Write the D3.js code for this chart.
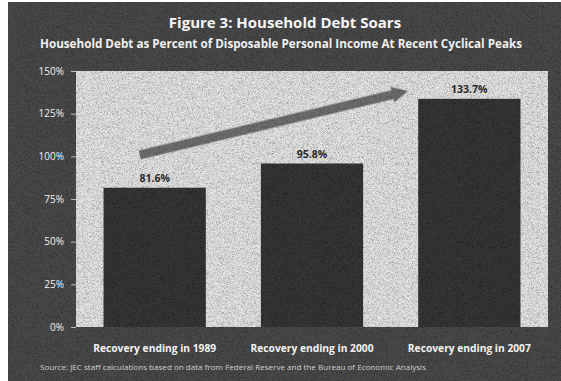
<!DOCTYPE html>
<html>
<head>
<meta charset="utf-8">
<script src="https://cdn.jsdelivr.net/npm/d3@7"></script>
<style>
  body { margin: 0; background: #fff; }
  svg { display: block; }
</style>
</head>
<body>
<div id="chart"></div>
<script>
// data
const categories = ["Recovery ending in 1989", "Recovery ending in 2000", "Recovery ending in 2007"];
const debtPct = [81.6, 95.8, 133.7];
const yTicks = [0, 25, 50, 75, 100, 125, 150];
// trend arrow, in data units: [offset from first bar centre in bands, value]
const arrowFrom = [-0.095, 100.8];
const arrowTo = [1.61, 138.3];

const W = 561, H = 381;
const margin = { top: 71, right: 13, bottom: 54, left: 76 };
const width = W - margin.left - margin.right;
const height = H - margin.top - margin.bottom;

const svg = d3.select("#chart").append("svg")
  .attr("width", W).attr("height", H);

// grainy texture like the scanned original
const defs = svg.append("defs");
const f = defs.append("filter").attr("id", "grain")
  .attr("x", 0).attr("y", 0).attr("width", "100%").attr("height", "100%");
f.append("feTurbulence").attr("type", "fractalNoise")
  .attr("baseFrequency", 1.8).attr("numOctaves", 1).attr("seed", 3).attr("result", "n");
f.append("feColorMatrix").attr("in", "n").attr("type", "matrix")
  .attr("values", "0 0 0 0 0  0 0 0 0 0  0 0 0 0 0  0 0 0 1.4 -0.55")
  .attr("result", "dark");
f.append("feComposite").attr("in", "dark").attr("in2", "SourceGraphic").attr("operator", "atop");

// dark panel
svg.append("rect")
  .attr("x", 8).attr("y", 2).attr("width", W - 8).attr("height", H - 2)
  .attr("fill", "#4a4a4a").attr("filter", "url(#grain)");

const g = svg.append("g").attr("transform", `translate(${margin.left},${margin.top})`);

const x = d3.scaleBand().domain(categories).range([0, width]).paddingInner(0.35).paddingOuter(0.175);
const y = d3.scaleLinear().domain([0, 150]).range([height, 0]);

// plot area
g.append("rect")
  .attr("x", 0).attr("y", y(150)).attr("width", width).attr("height", y(0) - y(150))
  .attr("fill", "#e4e4e4").attr("filter", "url(#grain)");

// y axis
const yAxis = g.append("g")
  .call(d3.axisLeft(y).tickValues(yTicks).tickFormat(d => d + "%").tickSize(5).tickPadding(7));
yAxis.select(".domain").remove();
yAxis.selectAll("line").attr("stroke", "#bbb");
yAxis.selectAll("text")
  .attr("fill", "#f2f2f2")
  .style("font-family", "'Open Sans', sans-serif")
  .style("font-size", "10px");

// bars
g.selectAll(".bar").data(debtPct).enter().append("rect")
  .attr("class", "bar")
  .attr("x", (d, i) => x(categories[i]))
  .attr("y", d => y(d))
  .attr("width", x.bandwidth())
  .attr("height", d => y(0) - y(d))
  .attr("fill", "#363636")
  .attr("filter", "url(#grain)");

// value labels
g.selectAll(".lbl").data(debtPct).enter().append("text")
  .attr("x", (d, i) => x(categories[i]) + x.bandwidth() / 2)
  .attr("y", d => y(d) - 6)
  .attr("text-anchor", "middle")
  .attr("fill", "#2a2a2a")
  .style("font-family", "'Open Sans', sans-serif")
  .style("font-weight", "bold")
  .style("font-size", "10.5px")
  .text(d => d.toFixed(1) + "%");

// trend arrow
const ax = d => x(categories[0]) + x.bandwidth() / 2 + d * x.step();
const x1 = ax(arrowFrom[0]), y1 = y(arrowFrom[1]);
const x2 = ax(arrowTo[0]), y2 = y(arrowTo[1]);
const ang = Math.atan2(y2 - y1, x2 - x1);
const len = Math.hypot(x2 - x1, y2 - y1);
const sw = 4.5, hw = 8, hl = 16;
g.append("path")
  .attr("transform", `translate(${x1},${y1}) rotate(${ang * 180 / Math.PI})`)
  .attr("d", `M0,${-sw} L${len - hl},${-sw} L${len - hl},${-hw} L${len},0 L${len - hl},${hw} L${len - hl},${sw} L0,${sw} Z`)
  .attr("fill", "#707070")
  .attr("filter", "url(#grain)");

// x labels
g.selectAll(".xl").data(categories).enter().append("text")
  .attr("x", d => x(d) + x.bandwidth() / 2)
  .attr("y", height + 25)
  .attr("text-anchor", "middle")
  .attr("fill", "#f2f2f2")
  .attr("textLength", 123).attr("lengthAdjust", "spacingAndGlyphs")
  .style("font-family", "'Open Sans', sans-serif")
  .style("font-weight", "bold")
  .style("font-size", "11px")
  .text(d => d);

// titles
svg.append("text")
  .attr("x", 285).attr("y", 28)
  .attr("text-anchor", "middle")
  .attr("fill", "#f5f5f5")
  .style("font-family", "'Open Sans', sans-serif")
  .style("font-weight", "bold")
  .style("font-size", "15px")
  .text("Figure 3: Household Debt Soars");

svg.append("text")
  .attr("x", 281).attr("y", 48)
  .attr("text-anchor", "middle")
  .attr("fill", "#f0f0f0")
  .attr("textLength", 482).attr("lengthAdjust", "spacingAndGlyphs")
  .style("font-family", "'Open Sans', sans-serif")
  .style("font-weight", "bold")
  .style("font-size", "11.5px")
  .text("Household Debt as Percent of Disposable Personal Income At Recent Cyclical Peaks");

svg.append("text")
  .attr("x", 40).attr("y", 370)
  .attr("fill", "#cfcfcf")
  .attr("textLength", 386).attr("lengthAdjust", "spacingAndGlyphs")
  .style("font-family", "'Open Sans', sans-serif")
  .style("font-size", "7px")
  .text("Source: JEC staff calculations based on data from Federal Reserve and the Bureau of Economic Analysis");
</script>
</body>
</html>
